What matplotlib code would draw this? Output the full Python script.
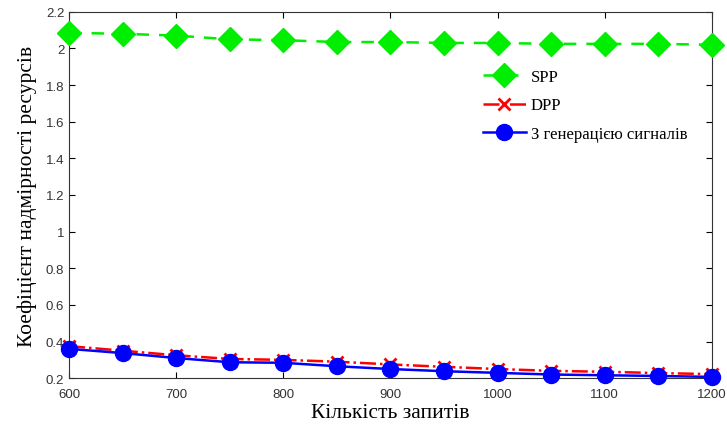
import numpy as np
from matplotlib import pyplot as plt

requests = [600, 650, 700, 750, 800, 850, 900, 950, 1000, 1050, 1100, 1150, 1200]
spp = [2.085, 2.08, 2.07, 2.05, 2.045, 2.035, 2.035, 2.03, 2.03, 2.025, 2.025, 2.025, 2.02]
dpp = [0.375, 0.35, 0.325, 0.305, 0.30, 0.29, 0.275, 0.262, 0.25, 0.24, 0.235, 0.228, 0.222]
gen = [0.36, 0.337, 0.31, 0.287, 0.284, 0.265, 0.25, 0.238, 0.229, 0.22, 0.216, 0.212, 0.207]

fig = plt.figure(figsize=(7.27, 4.27), dpi=100)
ax = fig.add_axes([0.095, 0.112, 0.884, 0.858])

ax.plot(requests, spp, '--D', color='#00ee00', lw=1.8, ms=12.5, label='SPP', clip_on=False, zorder=3,
        dashes=(5, 4))
ax.plot(requests, dpp, '-.x', color='#ff0000', lw=1.8, ms=8, mew=2, label='DPP', clip_on=False, zorder=3)
ax.plot(requests, gen, '-o', color='#0000ff', lw=1.8, ms=11.5, label='З генерацією сигналів', clip_on=False, zorder=4)

ax.set_xlim(600, 1200)
ax.set_ylim(0.2, 2.2)
ax.set_xticks(np.arange(600, 1201, 100))
ax.set_yticks(np.arange(0.2, 2.21, 0.2))
ax.set_yticklabels(['0.2', '0.4', '0.6', '0.8', '1', '1.2', '1.4', '1.6', '1.8', '2', '2.2'])
ax.tick_params(direction='in', top=True, right=True, labelsize=9.5, length=4)
ax.tick_params(axis='x', pad=7)
for lab in ax.get_xticklabels() + ax.get_yticklabels():
    lab.set_color('#333333')
    lab.set_family('Liberation Sans')
for s in ax.spines.values():
    s.set_color('#333333')

ax.set_xlabel('Кількість запитів', family='Liberation Serif', fontsize=15.5, labelpad=2)
ax.set_ylabel('Коефіцієнт надмірності ресурсів', family='Liberation Serif', fontsize=15.5, labelpad=6)

ax.legend(loc='upper left', bbox_to_anchor=(0.62, 0.885), frameon=False,
          prop={'family': 'Liberation Serif', 'size': 12}, handlelength=2.6,
          labelspacing=0.75, handletextpad=0.3)

plt.savefig('out.png')
